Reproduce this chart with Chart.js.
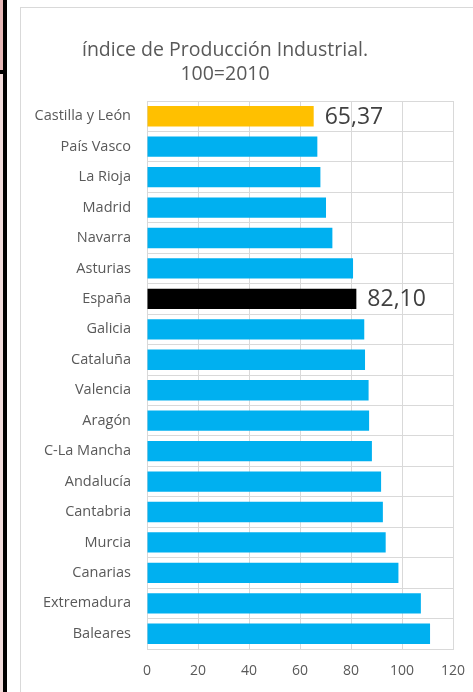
<!DOCTYPE html>
<html>
<head>
<meta charset="utf-8">
<script src="https://cdn.jsdelivr.net/npm/chart.js@4/dist/chart.umd.min.js"></script>
<style>
  html, body { margin: 0; padding: 0; background: #fff; overflow: hidden; }
  body { width: 473px; height: 692px; position: relative; }
  #boxTop { position: absolute; left: -10px; top: -10px; width: 17px; height: 84px; box-sizing: border-box;
            background: #e6b8b7; border: 4px solid #000; }
  #boxLow { position: absolute; left: -10px; top: 70px; width: 17px; height: 700px; box-sizing: border-box;
            background: #f2dcdb; border: 4px solid #000; }
  #frame { position: absolute; left: 20px; top: 7px; width: 470px; height: 700px; border: 1px solid #d9d9d9; background: #fff; }
  canvas { display: block; }
</style>
</head>
<body>
<div id="boxTop"></div>
<div id="boxLow"></div>
<div id="frame"><canvas id="chart" width="470" height="700"></canvas></div>
<script>
const regions = ['Castilla y León', 'País Vasco', 'La Rioja', 'Madrid', 'Navarra', 'Asturias', 'España',
  'Galicia', 'Cataluña', 'Valencia', 'Aragón', 'C-La Mancha', 'Andalucía', 'Cantabria', 'Murcia',
  'Canarias', 'Extremadura', 'Baleares'];
const ipi = [65.37, 66.8, 68.0, 70.2, 72.7, 80.8, 82.10, 85.2, 85.5, 86.9, 87.1, 88.2, 91.8, 92.5, 93.6,
  98.6, 107.4, 111.0];
const labelled = ['Castilla y León', 'España'];
const titleLines = ['índice de Producción Industrial.', '100=2010'];
const xTicks = [0, 20, 40, 60, 80, 100, 120];

const FONT = "'Open Sans', sans-serif";

function barColor(name) {
  if (name === 'Castilla y León') return '#ffc000';
  if (name === 'España') return '#000000';
  return '#00b0f0';
}

// title + value labels
const extras = {
  id: 'extras',
  afterDatasetsDraw(chart) {
    const ctx = chart.ctx;
    ctx.save();
    ctx.fillStyle = '#595959';
    ctx.font = '19.5px ' + FONT;
    ctx.textAlign = 'center';
    ctx.textBaseline = 'alphabetic';
    ctx.fillText(titleLines[0], 204, 48);
    ctx.fillText(titleLines[1], 204, 72);

    const meta = chart.getDatasetMeta(0);
    ctx.fillStyle = '#404040';
    ctx.font = '23px ' + FONT;
    ctx.textAlign = 'left';
    ctx.textBaseline = 'middle';
    regions.forEach((r, i) => {
      if (!labelled.includes(r)) return;
      const bar = meta.data[i];
      ctx.fillText(ipi[i].toFixed(2).replace('.', ','), bar.x + 11, bar.y + 1);
    });
    ctx.restore();
  }
};

new Chart(document.getElementById('chart'), {
  type: 'bar',
  data: {
    labels: regions,
    datasets: [{
      data: ipi,
      backgroundColor: regions.map(barColor),
      borderWidth: 0,
      categoryPercentage: 1,
      barPercentage: 0.667
    }]
  },
  options: {
    indexAxis: 'y',
    responsive: false,
    animation: false,
    layout: { padding: { left: 0, right: 38, top: 93, bottom: 19 } },
    plugins: { legend: { display: false }, tooltip: { enabled: false }, title: { display: false } },
    scales: {
      x: {
        min: 0, max: 120,
        afterBuildTicks(scale) { scale.ticks = xTicks.map(v => ({ value: v })); },
        afterFit(scale) { scale.height = 40; },
        grid: { color: '#d9d9d9', lineWidth: 1, drawTicks: false },
        border: { color: '#d9d9d9', width: 1 },
        ticks: { color: '#595959', font: { family: FONT, size: 14 }, padding: 14 }
      },
      y: {
        afterFit(scale) { scale.width = 126; },
        grid: { color: '#d9d9d9', lineWidth: 1, drawTicks: false, offset: true },
        border: { color: '#d9d9d9', width: 1 },
        ticks: { color: '#595959', font: { family: FONT, size: 14.5 }, padding: 16, autoSkip: false }
      }
    }
  },
  plugins: [extras]
});
</script>
</body>
</html>
